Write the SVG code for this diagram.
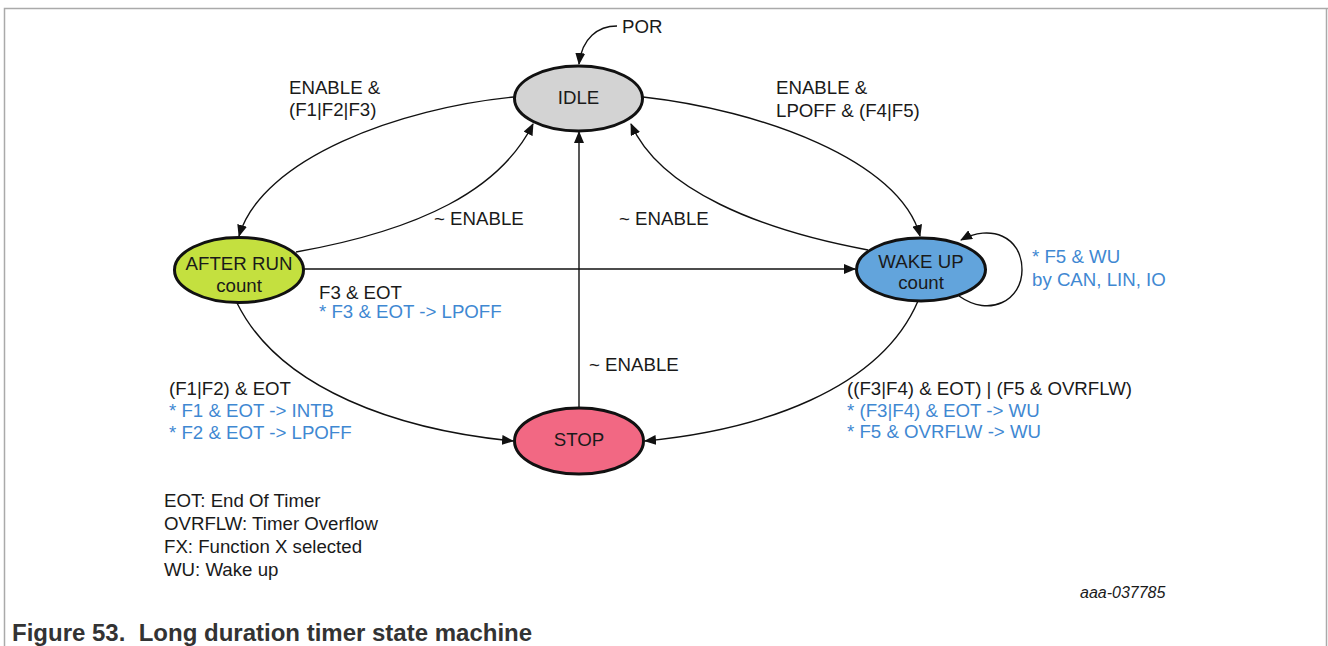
<svg xmlns="http://www.w3.org/2000/svg" width="1328" height="646" viewBox="0 0 1328 646">
<style>
text{font-family:"Liberation Sans",Arial,sans-serif;font-size:18.67px;fill:#1a1a1a}
.b{fill:#3f88d2}
.c{text-anchor:middle}
.st{stroke:#111;stroke-width:3}
.ln{fill:none;stroke:#111;stroke-width:1.4}
</style>
<defs>
<marker id="ah" markerUnits="userSpaceOnUse" markerWidth="12" markerHeight="10" viewBox="0 0 12 10" refX="11" refY="5" orient="auto">
<path d="M0,0 L12,5 L0,10 Z" fill="#111"/>
</marker>
</defs>
<rect width="1328" height="646" fill="#fff"/>
<path d="M4.5,646 V8.5 H1328" fill="none" stroke="#aaa" stroke-width="1.5"/>
<path d="M1326.5,8 V646" fill="none" stroke="#aaa" stroke-width="1.5"/>
<g id="connectors">
<path class="ln" d="M617,26 C598,26 582,38 579,64" marker-end="url(#ah)"/>
<path class="ln" d="M514,97 C400,108 262,158 239,236" marker-end="url(#ah)"/>
<path class="ln" d="M296,252 C420,230 500,190 533,124" marker-end="url(#ah)"/>
<path class="ln" d="M303,269 H855" marker-end="url(#ah)"/>
<path class="ln" d="M868,250 C760,230 660,190 631,124" marker-end="url(#ah)"/>
<path class="ln" d="M643,97 C760,110 900,160 920,236" marker-end="url(#ah)"/>
<path class="ln" d="M579,408 V132" marker-end="url(#ah)"/>
<path class="ln" d="M237,303 C280,390 400,430 513,441" marker-end="url(#ah)"/>
<path class="ln" d="M918,301 C880,390 760,430 645,441" marker-end="url(#ah)"/>
<path class="ln" d="M959,296 C990,318 1022,300 1022,270 C1022,236 990,224 961,240" marker-end="url(#ah)"/>
</g>
<g id="idle">
<ellipse class="st" cx="578.5" cy="98.5" rx="64" ry="32.5" fill="#d3d3d3"/>
<text class="c" x="578.5" y="104">IDLE</text>
</g>
<g id="afterrun">
<ellipse class="st" cx="239" cy="270" rx="64.5" ry="32.5" fill="#c4e03f"/>
<text class="c" x="239" y="270">AFTER RUN</text>
<text class="c" x="239" y="292">count</text>
</g>
<g id="wakeup">
<ellipse class="st" cx="921" cy="269.5" rx="64.5" ry="31.5" fill="#62a4dc"/>
<text class="c" x="921" y="268">WAKE UP</text>
<text class="c" x="921" y="289">count</text>
</g>
<g id="stop">
<ellipse class="st" cx="579" cy="441" rx="64.5" ry="33" fill="#f26883"/>
<text class="c" x="579" y="446">STOP</text>
</g>
<g id="labels">
<text x="622" y="33">POR</text>
<text x="289" y="94">ENABLE &amp;</text>
<text x="289" y="116">(F1|F2|F3)</text>
<text x="434" y="225">~ ENABLE</text>
<text x="619" y="225">~ ENABLE</text>
<text x="776" y="94">ENABLE &amp;</text>
<text x="776" y="117">LPOFF &amp; (F4|F5)</text>
<text class="b" x="1032" y="263">* F5 &amp; WU</text>
<text class="b" x="1032" y="286">by CAN, LIN, IO</text>
<text x="319" y="299">F3 &amp; EOT</text>
<text class="b" x="319" y="318">* F3 &amp; EOT -&gt; LPOFF</text>
<text x="589" y="371">~ ENABLE</text>
<text x="169" y="395">(F1|F2) &amp; EOT</text>
<text class="b" x="169" y="417">* F1 &amp; EOT -&gt; INTB</text>
<text class="b" x="169" y="439">* F2 &amp; EOT -&gt; LPOFF</text>
<text x="847" y="395">((F3|F4) &amp; EOT) | (F5 &amp; OVRFLW)</text>
<text class="b" x="847" y="417">* (F3|F4) &amp; EOT -&gt; WU</text>
<text class="b" x="847" y="438">* F5 &amp; OVRFLW -&gt; WU</text>
<text x="164" y="507">EOT: End Of Timer</text>
<text x="164" y="530">OVRFLW: Timer Overflow</text>
<text x="164" y="553">FX: Function X selected</text>
<text x="164" y="576">WU: Wake up</text>
<text x="1080" y="598" style="font-style:italic;font-size:16px">aaa-037785</text>
<text x="12" y="641" style="font-weight:bold;font-size:24px;fill:#333;white-space:pre">Figure 53.  Long duration timer state machine</text>
</g>
</svg>
